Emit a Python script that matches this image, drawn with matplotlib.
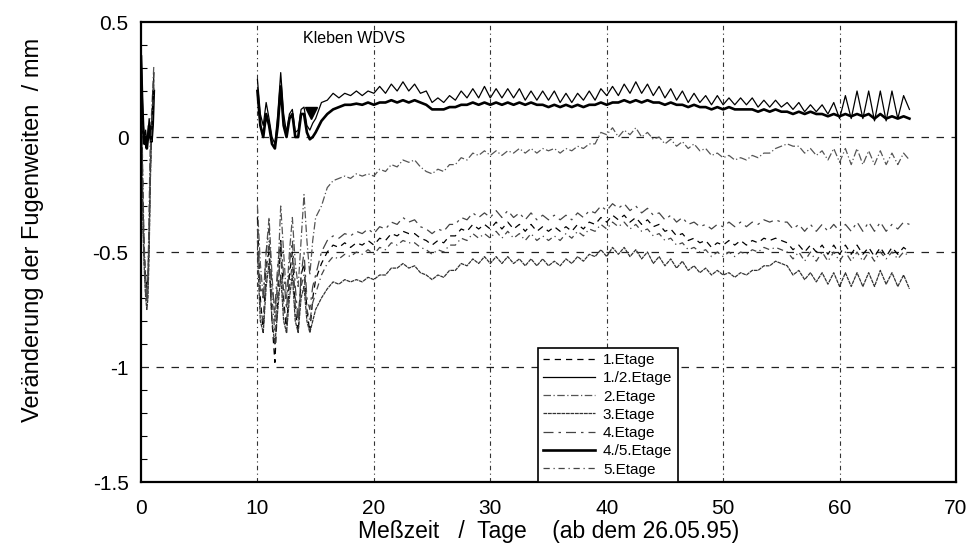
import numpy as np
import matplotlib
matplotlib.use("Agg")
import matplotlib.pyplot as plt

plt.rcParams['font.family'] = ['Liberation Sans', 'DejaVu Sans']

labels = ["1.Etage", "1./2.Etage", "2.Etage", "3.Etage", "4.Etage", "4./5.Etage", "5.Etage"]

# ---- segment 1: days 0 .. 1.1 (step 0.1) ----
s1_start, s1_step = 0.0, 0.1
s1 = {
    "1.Etage":    [0.30, -0.05, -0.35, -0.52, -0.62, -0.66, -0.60, -0.42, -0.15, 0.00, 0.10, 0.22],
    "1./2.Etage": [0.40, 0.20, 0.05, 0.00, 0.03, -0.02, 0.02, 0.08, 0.04, 0.00, 0.10, 0.28],
    "2.Etage":    [0.30, 0.00, -0.30, -0.50, -0.60, -0.70, -0.60, -0.30, 0.00, 0.10, 0.20, 0.31],
    "3.Etage":    [0.20, -0.20, -0.45, -0.60, -0.70, -0.75, -0.70, -0.50, -0.20, 0.00, 0.10, 0.25],
    "4.Etage":    [0.30, -0.10, -0.40, -0.55, -0.65, -0.70, -0.60, -0.40, -0.10, 0.05, 0.15, 0.28],
    "4./5.Etage": [0.35, 0.15, 0.02, -0.03, 0.00, -0.05, 0.00, 0.05, 0.00, -0.02, 0.05, 0.20],
    "5.Etage":    [0.25, -0.15, -0.42, -0.58, -0.68, -0.72, -0.65, -0.45, -0.18, 0.02, 0.12, 0.24],
}

# ---- segment 2: days 10 .. 14.75 (step 0.25) ----
s2_start, s2_step = 10.0, 0.25
s2 = {
    "1.Etage":    [-0.35, -0.70, -0.85, -0.55, -0.50, -0.80, -0.98, -0.70, -0.45, -0.70, -0.85, -0.60, -0.50, -0.75, -0.85, -0.60, -0.55, -0.75, -0.85, -0.70],
    "1./2.Etage": [0.25, 0.10, 0.05, 0.15, 0.08, 0.00, -0.03, 0.10, 0.28, 0.10, 0.02, 0.10, 0.12, 0.02, 0.03, 0.12, 0.13, 0.05, 0.03, 0.06],
    "2.Etage":    [-0.30, -0.55, -0.70, -0.50, -0.35, -0.60, -0.80, -0.60, -0.30, -0.50, -0.70, -0.50, -0.35, -0.55, -0.65, -0.45, -0.25, -0.45, -0.60, -0.45],
    "3.Etage":    [-0.50, -0.80, -0.85, -0.65, -0.55, -0.80, -0.90, -0.75, -0.60, -0.80, -0.85, -0.70, -0.60, -0.80, -0.85, -0.70, -0.65, -0.80, -0.85, -0.80],
    "4.Etage":    [-0.40, -0.65, -0.70, -0.50, -0.40, -0.65, -0.75, -0.55, -0.45, -0.60, -0.75, -0.55, -0.45, -0.65, -0.80, -0.60, -0.50, -0.70, -0.75, -0.65],
    "4./5.Etage": [0.20, 0.05, 0.00, 0.10, 0.05, -0.03, -0.05, 0.05, 0.22, 0.05, 0.00, 0.08, 0.10, 0.00, 0.00, 0.10, 0.10, 0.02, -0.01, 0.00],
    "5.Etage":    [-0.45, -0.75, -0.80, -0.60, -0.45, -0.70, -0.85, -0.65, -0.50, -0.75, -0.80, -0.65, -0.55, -0.70, -0.80, -0.65, -0.60, -0.75, -0.80, -0.72],
}

# ---- segment 3: days 15 .. 66 (step 0.5) ----
s3_start, s3_step = 15.0, 0.5
s3 = {
    "1./2.Etage": [
        0.08, 0.15, 0.16, 0.19, 0.17, 0.19, 0.18, 0.20, 0.18, 0.20,
        0.19, 0.22, 0.19, 0.23, 0.20, 0.24, 0.20, 0.23, 0.19, 0.20,
        0.15, 0.17, 0.15, 0.18, 0.16, 0.20, 0.17, 0.21, 0.17, 0.22,
        0.17, 0.21, 0.17, 0.21, 0.17, 0.21, 0.16, 0.20, 0.16, 0.20,
        0.16, 0.20, 0.15, 0.19, 0.15, 0.19, 0.16, 0.20, 0.16, 0.21,
        0.18, 0.22, 0.18, 0.23, 0.19, 0.24, 0.19, 0.23, 0.18, 0.22,
        0.17, 0.21, 0.16, 0.20, 0.15, 0.19, 0.15, 0.18, 0.14, 0.18,
        0.14, 0.17, 0.14, 0.17, 0.14, 0.17, 0.13, 0.16, 0.13, 0.16,
        0.13, 0.15, 0.12, 0.15, 0.11, 0.14, 0.11, 0.14, 0.10, 0.15,
        0.08, 0.18, 0.08, 0.20, 0.08, 0.20, 0.07, 0.20, 0.07, 0.20,
        0.08, 0.18, 0.12],
    "4./5.Etage": [
        0.02, 0.07, 0.10, 0.12, 0.13, 0.14, 0.14, 0.145, 0.14, 0.15,
        0.14, 0.15, 0.15, 0.16, 0.15, 0.16, 0.15, 0.16, 0.15, 0.14,
        0.12, 0.12, 0.12, 0.13, 0.13, 0.14, 0.14, 0.15, 0.14, 0.15,
        0.14, 0.15, 0.14, 0.15, 0.14, 0.15, 0.14, 0.15, 0.14, 0.14,
        0.13, 0.14, 0.13, 0.14, 0.13, 0.14, 0.13, 0.14, 0.14, 0.15,
        0.14, 0.15, 0.15, 0.16, 0.15, 0.16, 0.15, 0.16, 0.15, 0.15,
        0.14, 0.15, 0.14, 0.14, 0.13, 0.14, 0.13, 0.13, 0.12, 0.13,
        0.12, 0.13, 0.12, 0.12, 0.12, 0.12, 0.11, 0.12, 0.11, 0.12,
        0.11, 0.11, 0.10, 0.11, 0.10, 0.11, 0.10, 0.10, 0.09, 0.10,
        0.09, 0.10, 0.09, 0.10, 0.09, 0.10, 0.08, 0.10, 0.08, 0.09,
        0.08, 0.09, 0.08],
    "2.Etage": [
        -0.35, -0.30, -0.22, -0.19, -0.18, -0.17, -0.18, -0.16, -0.17, -0.16,
        -0.17, -0.14, -0.15, -0.12, -0.13, -0.10, -0.11, -0.10, -0.13, -0.15,
        -0.16, -0.14, -0.15, -0.12, -0.12, -0.09, -0.10, -0.07, -0.08, -0.06,
        -0.08, -0.06, -0.08, -0.06, -0.07, -0.05, -0.07, -0.05, -0.07, -0.05,
        -0.06, -0.05, -0.07, -0.05, -0.06, -0.04, -0.05, -0.03, -0.03, 0.02,
        0.01, 0.04, 0.00, 0.03, 0.01, 0.04, 0.00, 0.02, -0.01, 0.00,
        -0.03, -0.01, -0.04, -0.02, -0.05, -0.03, -0.06, -0.05, -0.08, -0.07,
        -0.09, -0.08, -0.10, -0.09, -0.10, -0.08, -0.09, -0.07, -0.07, -0.05,
        -0.04, -0.03, -0.04, -0.04, -0.07, -0.05, -0.08, -0.06, -0.10, -0.05,
        -0.11, -0.05, -0.12, -0.05, -0.12, -0.06, -0.12, -0.06, -0.12, -0.07,
        -0.12, -0.07, -0.10],
    "3.Etage": [
        -0.75, -0.70, -0.66, -0.63, -0.64, -0.62, -0.63, -0.62, -0.63, -0.61,
        -0.62, -0.60, -0.60, -0.57, -0.57, -0.55, -0.57, -0.56, -0.59, -0.60,
        -0.62, -0.60, -0.61, -0.58, -0.58, -0.55, -0.56, -0.53, -0.55, -0.52,
        -0.55, -0.52, -0.55, -0.52, -0.55, -0.53, -0.56, -0.53, -0.56, -0.53,
        -0.56, -0.54, -0.56, -0.53, -0.55, -0.52, -0.54, -0.51, -0.52, -0.49,
        -0.52, -0.48, -0.51, -0.48, -0.52, -0.49, -0.53, -0.50, -0.55, -0.52,
        -0.56, -0.53, -0.57, -0.54, -0.58, -0.56, -0.59, -0.57, -0.60, -0.58,
        -0.60, -0.59, -0.61, -0.59, -0.60, -0.58, -0.58, -0.56, -0.56, -0.54,
        -0.55, -0.56, -0.60, -0.58, -0.62, -0.59, -0.63, -0.59, -0.64, -0.59,
        -0.65, -0.59, -0.65, -0.59, -0.65, -0.59, -0.65, -0.58, -0.64, -0.59,
        -0.65, -0.60, -0.66],
    "4.Etage": [
        -0.60, -0.50, -0.45, -0.43, -0.44, -0.42, -0.43, -0.41, -0.42, -0.40,
        -0.42, -0.39, -0.40, -0.37, -0.38, -0.35, -0.37, -0.36, -0.39, -0.40,
        -0.42, -0.40, -0.41, -0.38, -0.38, -0.35, -0.36, -0.33, -0.35, -0.33,
        -0.35, -0.32, -0.35, -0.32, -0.35, -0.33, -0.36, -0.33, -0.36, -0.34,
        -0.36, -0.34, -0.36, -0.34, -0.36, -0.33, -0.35, -0.32, -0.33, -0.30,
        -0.32, -0.29, -0.31, -0.29, -0.32, -0.30, -0.33, -0.31, -0.34, -0.33,
        -0.36, -0.34, -0.37, -0.35, -0.38, -0.37, -0.39, -0.38, -0.40, -0.38,
        -0.39, -0.37, -0.39, -0.37, -0.39, -0.37, -0.38, -0.36, -0.37, -0.36,
        -0.37, -0.37, -0.40, -0.38, -0.41, -0.38, -0.41, -0.38, -0.41, -0.38,
        -0.41, -0.38, -0.41, -0.37, -0.41, -0.37, -0.41, -0.37, -0.41, -0.38,
        -0.40, -0.37, -0.38],
    "1.Etage": [
        -0.62, -0.55, -0.50, -0.47, -0.48, -0.46, -0.48, -0.46, -0.47, -0.45,
        -0.47, -0.44, -0.45, -0.42, -0.43, -0.41, -0.42, -0.42, -0.44, -0.45,
        -0.47, -0.45, -0.46, -0.43, -0.43, -0.40, -0.41, -0.38, -0.40, -0.38,
        -0.40, -0.37, -0.40, -0.37, -0.40, -0.38, -0.41, -0.38, -0.41, -0.39,
        -0.41, -0.39, -0.41, -0.39, -0.41, -0.38, -0.40, -0.37, -0.38, -0.35,
        -0.37, -0.34, -0.36, -0.34, -0.37, -0.35, -0.38, -0.36, -0.39, -0.38,
        -0.41, -0.40, -0.43, -0.42, -0.45, -0.44, -0.46, -0.45, -0.48, -0.46,
        -0.47, -0.45, -0.47, -0.45, -0.47, -0.45, -0.46, -0.44, -0.45, -0.44,
        -0.45, -0.46, -0.49, -0.47, -0.50, -0.47, -0.50, -0.47, -0.51, -0.47,
        -0.51, -0.47, -0.51, -0.47, -0.51, -0.48, -0.52, -0.48, -0.52, -0.48,
        -0.51, -0.48, -0.50],
    "5.Etage": [
        -0.68, -0.60, -0.55, -0.52, -0.53, -0.51, -0.52, -0.50, -0.51, -0.49,
        -0.51, -0.48, -0.49, -0.46, -0.47, -0.45, -0.46, -0.46, -0.48, -0.49,
        -0.51, -0.49, -0.50, -0.47, -0.47, -0.44, -0.45, -0.42, -0.44, -0.42,
        -0.44, -0.41, -0.44, -0.41, -0.44, -0.42, -0.45, -0.42, -0.45, -0.43,
        -0.45, -0.43, -0.45, -0.42, -0.44, -0.41, -0.43, -0.40, -0.41, -0.38,
        -0.40, -0.37, -0.39, -0.37, -0.40, -0.38, -0.41, -0.40, -0.43, -0.42,
        -0.45, -0.44, -0.47, -0.46, -0.49, -0.48, -0.50, -0.49, -0.52, -0.50,
        -0.52, -0.50, -0.52, -0.50, -0.51, -0.49, -0.50, -0.48, -0.49, -0.48,
        -0.49, -0.50, -0.53, -0.50, -0.54, -0.50, -0.54, -0.50, -0.54, -0.50,
        -0.54, -0.50, -0.54, -0.50, -0.54, -0.50, -0.54, -0.50, -0.53, -0.50,
        -0.53, -0.50, -0.52],
}

styles = {
    "1.Etage":    dict(color="black", lw=0.9, ls=(0, (5, 4))),
    "1./2.Etage": dict(color="black", lw=0.9, ls="-"),
    "2.Etage":    dict(color="#555555", lw=0.9, ls=(0, (6, 2, 1, 2))),
    "3.Etage":    dict(color="#333333", lw=0.9, ls=(0, (3, 0.6))),
    "4.Etage":    dict(color="#444444", lw=0.9, ls=(0, (8, 4, 2, 4))),
    "4./5.Etage": dict(color="black", lw=1.9, ls="-"),
    "5.Etage":    dict(color="#444444", lw=0.9, ls=(0, (5, 3, 1, 3))),
}

W, H = 971, 546
AX_L, AX_R, AX_T, AX_B = 141, 956, 22, 482
fig = plt.figure(figsize=(W / 100, H / 100), dpi=100)
ax = fig.add_axes([AX_L / W, 1 - AX_B / H, (AX_R - AX_L) / W, (AX_B - AX_T) / H])

for lab in labels:
    v1 = np.array(s1[lab])
    x1 = s1_start + s1_step * np.arange(len(v1))
    v2 = np.array(s2[lab])
    x2 = s2_start + s2_step * np.arange(len(v2))
    v3 = np.array(s3[lab])
    x3 = s3_start + s3_step * np.arange(len(v3))
    st = styles[lab]
    ax.plot(x1, v1, color=st["color"], lw=st["lw"], ls=st["ls"])
    ax.plot(np.concatenate([x2, x3]), np.concatenate([v2, v3]),
            color=st["color"], lw=st["lw"], ls=st["ls"], label=lab)

ax.set_xlim(0, 70)
ax.set_ylim(-1.5, 0.5)
ax.set_xticks(np.arange(0, 71, 10))
ax.set_yticks([0.5, 0, -0.5, -1, -1.5])
ax.set_yticklabels(["0.5", "0", "-0.5", "-1", "-1.5"])
ax.set_yticks(np.arange(-1.5, 0.51, 0.1), minor=True)
ax.tick_params(axis="both", which="major", length=0, labelsize=15)
ax.tick_params(axis="x", which="major", pad=12)
ax.tick_params(axis="y", which="major", pad=9)
ax.tick_params(axis="y", which="minor", direction="in", length=4, width=0.8)

for xv in range(10, 70, 10):
    ax.axvline(xv, color="#333333", lw=0.8, ls=(0, (4, 3, 1, 3)), zorder=0)
for yv in [0, -0.5, -1]:
    ax.axhline(yv, color="#222222", lw=0.9, ls=(0, (6, 6)), zorder=0)

for sp in ax.spines.values():
    sp.set_linewidth(1.6)

ax.set_xlabel("Meßzeit   /  Tage    (ab dem 26.05.95)", fontsize=16.5)
ax.xaxis.set_label_coords(0.5, -(520 - AX_B) / (AX_B - AX_T))
ax.xaxis.label.set_va("top")
ax.set_ylabel("Veränderung der Fugenweiten  / mm", fontsize=17)
ax.yaxis.set_label_coords(-(AX_L - 44) / (AX_R - AX_L), (AX_B - 230) / (AX_B - AX_T))

# annotation "Kleben WDVS"
ax.plot([14.6], [0.105], marker="v", color="black", markersize=9, ls="none", zorder=6)
ax.text(13.9, 0.43, "Kleben WDVS", fontsize=11.5, ha="left", va="center")

leg = ax.legend(loc="lower left", bbox_to_anchor=(538 / W, 1 - 482 / H),
                bbox_transform=fig.transFigure, fontsize=11, frameon=True,
                fancybox=False, edgecolor="black", framealpha=1,
                handlelength=3.4, labelspacing=0.28, borderpad=0.35,
                handletextpad=0.5, borderaxespad=0)
leg.get_frame().set_linewidth(1.2)
leg.set_zorder(5)

fig.savefig("out.png", dpi=100)
